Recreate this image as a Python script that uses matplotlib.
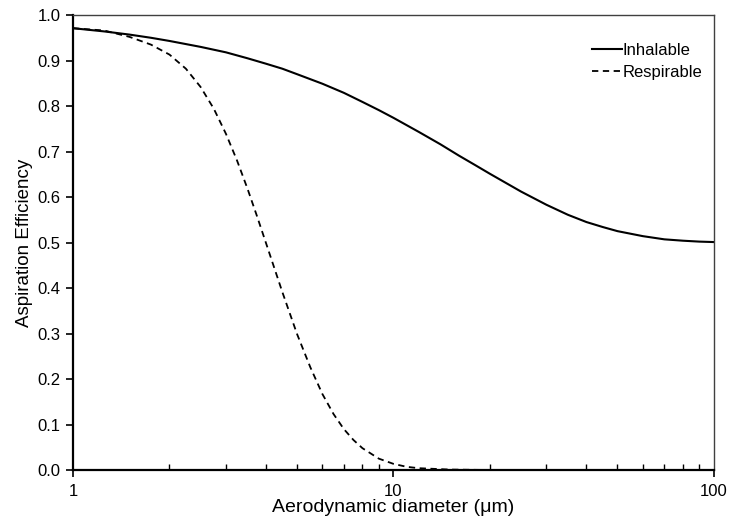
import matplotlib.pyplot as plt
from matplotlib.ticker import FixedLocator, LogLocator, NullFormatter, FixedFormatter

plt.rcParams["font.family"] = ["Liberation Sans", "DejaVu Sans"]
plt.rcParams["font.size"] = 12

# values
inh_d = [1, 1.25, 1.5, 1.75, 2, 2.5, 3, 3.5, 4, 4.5, 5, 6, 7, 8, 9, 10, 12, 14, 16,
         18, 20, 25, 30, 35, 40, 45, 50, 60, 70, 80, 90, 100]
inh_eff = [0.971, 0.964, 0.957, 0.950, 0.943, 0.930, 0.918, 0.905, 0.893, 0.882,
           0.870, 0.849, 0.829, 0.809, 0.791, 0.774, 0.743, 0.716, 0.691, 0.670,
           0.651, 0.612, 0.583, 0.561, 0.545, 0.534, 0.525, 0.514, 0.507, 0.504,
           0.502, 0.501]

resp_d = [1, 1.25, 1.5, 1.75, 2, 2.25, 2.5, 2.75, 3, 3.25, 3.5, 3.75, 4, 4.5, 5, 5.5,
          6, 6.5, 7, 7.5, 8, 9, 10, 11, 12, 15, 20, 30, 50, 100]
resp_eff = [0.971, 0.966, 0.952, 0.935, 0.913, 0.882, 0.842, 0.794, 0.739, 0.680,
            0.619, 0.558, 0.499, 0.391, 0.299, 0.226, 0.167, 0.123, 0.090, 0.066,
            0.048, 0.025, 0.0135, 0.007, 0.004, 0.001, 0.0, 0.0, 0.0, 0.0]

fig = plt.figure(figsize=(7.31, 5.29), dpi=100)
ax = fig.add_axes([0.0999, 0.1115, 0.8768, 0.8601])

ax.plot(inh_d, inh_eff, color="black", lw=1.5, label="Inhalable")
ax.plot(resp_d, resp_eff, color="black", lw=1.3, ls=(0, (3.5, 2.5)), label="Respirable")

ax.set_xscale("log")
ax.set_xlim(1, 100)
ax.set_ylim(0, 1.0)
ax.xaxis.set_major_locator(FixedLocator([1, 10, 100]))
ax.xaxis.set_major_formatter(FixedFormatter(["1", "10", "100"]))
ax.xaxis.set_minor_locator(LogLocator(base=10, subs=range(2, 10)))
ax.xaxis.set_minor_formatter(NullFormatter())
ax.set_yticks([i / 10 for i in range(11)])
ax.set_yticklabels([f"{i / 10:.1f}" for i in range(11)])

ax.tick_params(axis="x", which="major", direction="out", length=5, width=1.2, pad=5)
ax.tick_params(axis="x", which="minor", direction="in", length=4, width=1.0)
ax.tick_params(axis="y", which="major", direction="out", length=5, width=1.2, pad=4)

for side in ("left", "bottom"):
    ax.spines[side].set_linewidth(1.6)
    ax.spines[side].set_color("black")
for side in ("top", "right"):
    ax.spines[side].set_linewidth(1.0)
    ax.spines[side].set_color("#404040")

ax.set_xlabel("Aerodynamic diameter (μm)", fontsize=14, labelpad=0)
ax.set_ylabel("Aspiration Efficiency", fontsize=13.5, labelpad=3)

ax.legend(loc="upper right", frameon=False, handlelength=1.8, handletextpad=0.0,
          fontsize=12, bbox_to_anchor=(0.992, 0.954), borderaxespad=0,
          labelspacing=0.42)

fig.savefig("out.png", dpi=100)
